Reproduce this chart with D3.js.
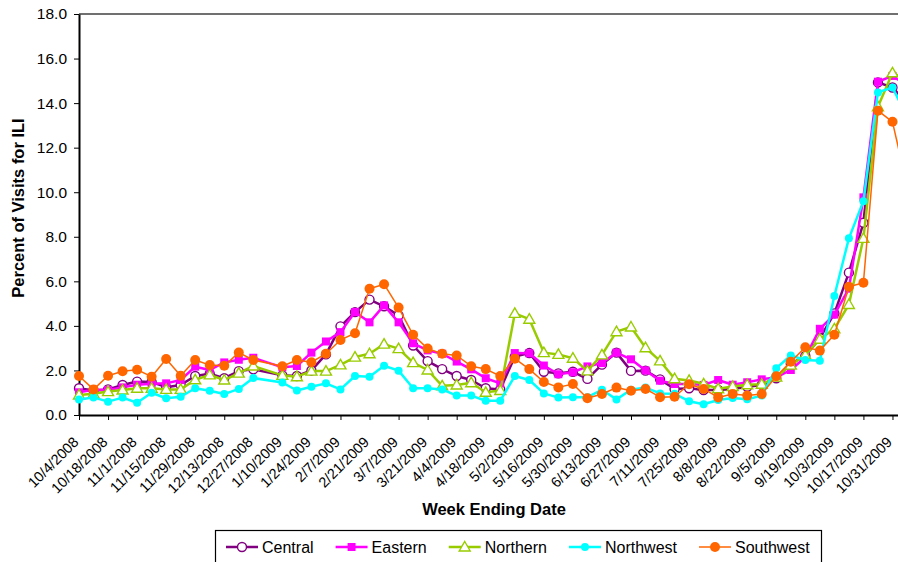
<html>
<head>
  <title>Percent of Visits for ILI</title>
  <style>
    body { margin: 0; background: white; }
    svg text { font-family: Arial, 'Liberation Sans', sans-serif; fill: black; }
  </style>
  <script src="https://cdn.jsdelivr.net/npm/d3@7"></script>
</head>
<body>
<div id="chart"></div>
<script>
  // week ending dates (1/3/2009 has no data)
  var weeks = ['10/4/2008', '10/11/2008', '10/18/2008', '10/25/2008', '11/1/2008', '11/8/2008',
    '11/15/2008', '11/22/2008', '11/29/2008', '12/6/2008', '12/13/2008', '12/20/2008', '12/27/2008',
    '1/3/2009', '1/10/2009', '1/17/2009', '1/24/2009', '1/31/2009', '2/7/2009', '2/14/2009',
    '2/21/2009', '2/28/2009', '3/7/2009', '3/14/2009', '3/21/2009', '3/28/2009', '4/4/2009',
    '4/11/2009', '4/18/2009', '4/25/2009', '5/2/2009', '5/9/2009', '5/16/2009', '5/23/2009',
    '5/30/2009', '6/6/2009', '6/13/2009', '6/20/2009', '6/27/2009', '7/4/2009', '7/11/2009',
    '7/18/2009', '7/25/2009', '8/1/2009', '8/8/2009', '8/15/2009', '8/22/2009', '8/29/2009',
    '9/5/2009', '9/12/2009', '9/19/2009', '9/26/2009', '10/3/2009', '10/10/2009', '10/17/2009',
    '10/24/2009', '10/31/2009', '11/7/2009'];

  var central = [1.20, 1.10, 1.15, 1.35, 1.50, 1.48, 1.25, 1.35, 1.75, 1.85, 1.65, 1.97, 2.05, null,
    1.78, 1.75, 2.00, 2.72, 3.98, 4.62, 5.18, 4.88, 4.47, 3.12, 2.42, 2.06, 1.75, 1.57, 1.20, 1.15,
    2.62, 2.78, 1.94, 1.87, 1.94, 1.62, 2.26, 2.80, 1.98, 1.99, 1.60, 1.17, 1.20, 1.12, 1.12, 1.17,
    1.27, 1.35, 1.65, 2.30, 2.65, 3.45, 4.56, 6.39, 8.63, 14.93, 14.70, 14.0];
  var eastern = [1.02, 1.13, 1.12, 1.24, 1.36, 1.40, 1.42, 1.57, 2.17, 2.02, 2.36, 2.48, 2.57, null,
    2.14, 2.20, 2.80, 3.30, 3.72, 4.62, 4.16, 4.92, 4.16, 3.22, 2.90, 2.75, 2.40, 2.05, 1.65, 1.42,
    2.78, 2.77, 2.22, 1.83, 1.92, 2.18, 2.33, 2.80, 2.50, 2.00, 1.54, 1.39, 1.39, 1.35, 1.57, 1.36,
    1.47, 1.60, 1.69, 2.02, 2.60, 3.87, 4.51, 5.67, 9.77, 14.96, 15.22, 14.8];
  var northern = [0.90, 0.95, 1.05, 1.12, 1.20, 1.20, 1.15, 1.15, 1.58, 1.80, 1.57, 1.88, 2.20, null,
    1.78, 1.72, 1.97, 1.97, 2.25, 2.60, 2.75, 3.18, 2.98, 2.35, 2.02, 1.31, 1.35, 1.45, 1.02, 1.10,
    4.56, 4.30, 2.80, 2.72, 2.55, 1.98, 2.70, 3.74, 3.95, 3.02, 2.43, 1.63, 1.55, 1.40, 1.18, 1.28,
    1.36, 1.38, 1.70, 2.24, 2.69, 3.40, 3.87, 4.96, 7.93, 13.84, 15.36, 15.0];
  var northwest = [0.70, 0.79, 0.60, 0.78, 0.55, 1.00, 0.75, 0.82, 1.20, 1.09, 0.94, 1.17, 1.66, null,
    1.46, 1.10, 1.27, 1.42, 1.15, 1.75, 1.72, 2.21, 1.99, 1.20, 1.20, 1.15, 0.87, 0.87, 0.64, 0.64,
    1.75, 1.57, 0.97, 0.78, 0.80, 0.80, 1.13, 0.70, 1.13, 1.23, 0.97, 0.95, 0.62, 0.48, 0.67, 0.76,
    0.71, 0.87, 2.10, 2.67, 2.47, 2.43, 5.34, 7.93, 9.60, 14.48, 14.70, 13.4];
  var southwest = [1.75, 1.15, 1.76, 1.96, 2.03, 1.72, 2.51, 1.76, 2.47, 2.24, 2.21, 2.80, 2.47, null,
    2.19, 2.47, 2.37, 2.75, 3.37, 3.67, 5.67, 5.87, 4.82, 3.60, 2.98, 2.75, 2.67, 2.19, 2.06, 1.75,
    2.53, 2.06, 1.48, 1.24, 1.39, 0.75, 0.94, 1.23, 1.09, 1.17, 0.80, 0.82, 1.38, 1.17, 0.79, 0.94,
    0.87, 0.94, 1.74, 2.39, 3.04, 2.89, 3.60, 5.76, 5.94, 13.66, 13.16, 10.3];

  var seriesNames = ['Central', 'Eastern', 'Northern', 'Northwest', 'Southwest'];
  var seriesValues = [central, eastern, northern, northwest, southwest];

  var yTicks = [0, 2, 4, 6, 8, 10, 12, 14, 16, 18];
  var xTickLabels = weeks.filter(function(d, i) { return i % 2 === 0; });

  document.addEventListener('DOMContentLoaded', go);

  function go() {
    var styles = {
      Central:   { color: '#800080', width: 2.5, marker: 'openCircle' },
      Eastern:   { color: '#FF00FF', width: 2.5, marker: 'square' },
      Northern:  { color: '#99CC00', width: 2.5, marker: 'triangle' },
      Northwest: { color: '#00FFFF', width: 2.5, marker: 'circle' },
      Southwest: { color: '#FF6600', width: 1.5, marker: 'bigCircle' }
    };

    var svg = d3.select('#chart')
        .append('svg')
        .attr('width', 898)
        .attr('height', 562);

    // plot area runs past the right edge of the picture
    var x = d3.scalePoint()
        .domain(weeks)
        .range([79, 907]);

    var y = d3.scaleLinear()
        .domain([0, 18])
        .range([415, 14]);

    // top border of plot area
    svg.append('line')
        .attr('x1', 79)
        .attr('y1', y(18))
        .attr('x2', 898)
        .attr('y2', y(18))
        .style('stroke', '#404040')
        .style('stroke-width', 1.5);

    var yAxis = svg.append('g')
        .attr('transform', 'translate(79,0)')
        .call(d3.axisLeft(y)
          .tickValues(yTicks)
          .tickFormat(d3.format('.1f'))
          .tickSize(5)
          .tickSizeOuter(0)
          .tickPadding(7));
    yAxis.selectAll('text').style('font-size', '15.5px');

    var xAxis = svg.append('g')
        .attr('transform', 'translate(0,415)')
        .call(d3.axisBottom(x)
          .tickValues(xTickLabels)
          .tickSize(5)
          .tickSizeOuter(0));
    xAxis.selectAll('text')
        .attr('x', 0)
        .attr('y', 0)
        .attr('dy', 0)
        .attr('text-anchor', 'end')
        .attr('transform', 'translate(0,28) rotate(-45)')
        .style('font-size', '14.5px');

    svg.selectAll('.domain').style('stroke', 'black').style('stroke-width', 2);
    svg.selectAll('.tick line').style('stroke', 'black');

    // axis titles
    svg.append('text')
        .attr('x', 494)
        .attr('y', 515)
        .attr('text-anchor', 'middle')
        .style('font-size', '16.5px')
        .style('font-weight', 'bold')
        .text('Week Ending Date');

    svg.append('text')
        .attr('transform', 'translate(24,208) rotate(-90)')
        .attr('text-anchor', 'middle')
        .style('font-size', '16.5px')
        .style('font-weight', 'bold')
        .text('Percent of Visits for ILI');

    var line = d3.line()
        .x(function(d) { return x(d.week); })
        .y(function(d) { return y(d.value); });

    seriesNames.forEach(function(name, s) {
      var st = styles[name];
      var pts = weeks.map(function(w, i) {
        return { week: w, value: seriesValues[s][i] };
      }).filter(function(d) { return d.value !== null; });

      svg.append('path')
          .datum(pts)
          .attr('d', line)
          .style('fill', 'none')
          .style('stroke', st.color)
          .style('stroke-width', st.width)
          .style('stroke-linejoin', 'round');

      var g = svg.append('g');
      pts.forEach(function(d) {
        drawMarker(g, st, x(d.week), y(d.value));
      });
    });

    // legend
    var legend = svg.append('g');
    legend.append('rect')
        .attr('x', 215.5)
        .attr('y', 530.5)
        .attr('width', 606)
        .attr('height', 45)
        .style('fill', 'white')
        .style('stroke', 'black')
        .style('stroke-width', 1.2);

    var lx = 226;
    var ly = 547;
    seriesNames.forEach(function(name) {
      var st = styles[name];
      legend.append('line')
          .attr('x1', lx)
          .attr('y1', ly)
          .attr('x2', lx + 32)
          .attr('y2', ly)
          .style('stroke', st.color)
          .style('stroke-width', st.width);
      drawMarker(legend, st, lx + 16, ly);
      var t = legend.append('text')
          .attr('x', lx + 36)
          .attr('y', ly)
          .attr('dy', '0.36em')
          .style('font-size', '16px')
          .text(name);
      lx += 36 + t.node().getComputedTextLength() + 22;
    });
  }

  function drawMarker(g, st, cx, cy) {
    if (st.marker === 'openCircle') {
      g.append('circle')
          .attr('cx', cx).attr('cy', cy).attr('r', 4.5)
          .style('fill', 'white')
          .style('stroke', st.color)
          .style('stroke-width', 1.4);
    } else if (st.marker === 'square') {
      g.append('rect')
          .attr('x', cx - 4).attr('y', cy - 4)
          .attr('width', 8).attr('height', 8)
          .style('fill', st.color);
    } else if (st.marker === 'triangle') {
      g.append('path')
          .attr('d', 'M' + cx + ',' + (cy - 5.5) + 'L' + (cx + 5.5) + ',' + (cy + 4) +
                'L' + (cx - 5.5) + ',' + (cy + 4) + 'Z')
          .style('fill', 'white')
          .style('stroke', st.color)
          .style('stroke-width', 1.4);
    } else if (st.marker === 'circle') {
      g.append('circle')
          .attr('cx', cx).attr('cy', cy).attr('r', 4)
          .style('fill', st.color);
    } else {
      g.append('circle')
          .attr('cx', cx).attr('cy', cy).attr('r', 5)
          .style('fill', st.color);
    }
  }
</script>
</body>
</html>
